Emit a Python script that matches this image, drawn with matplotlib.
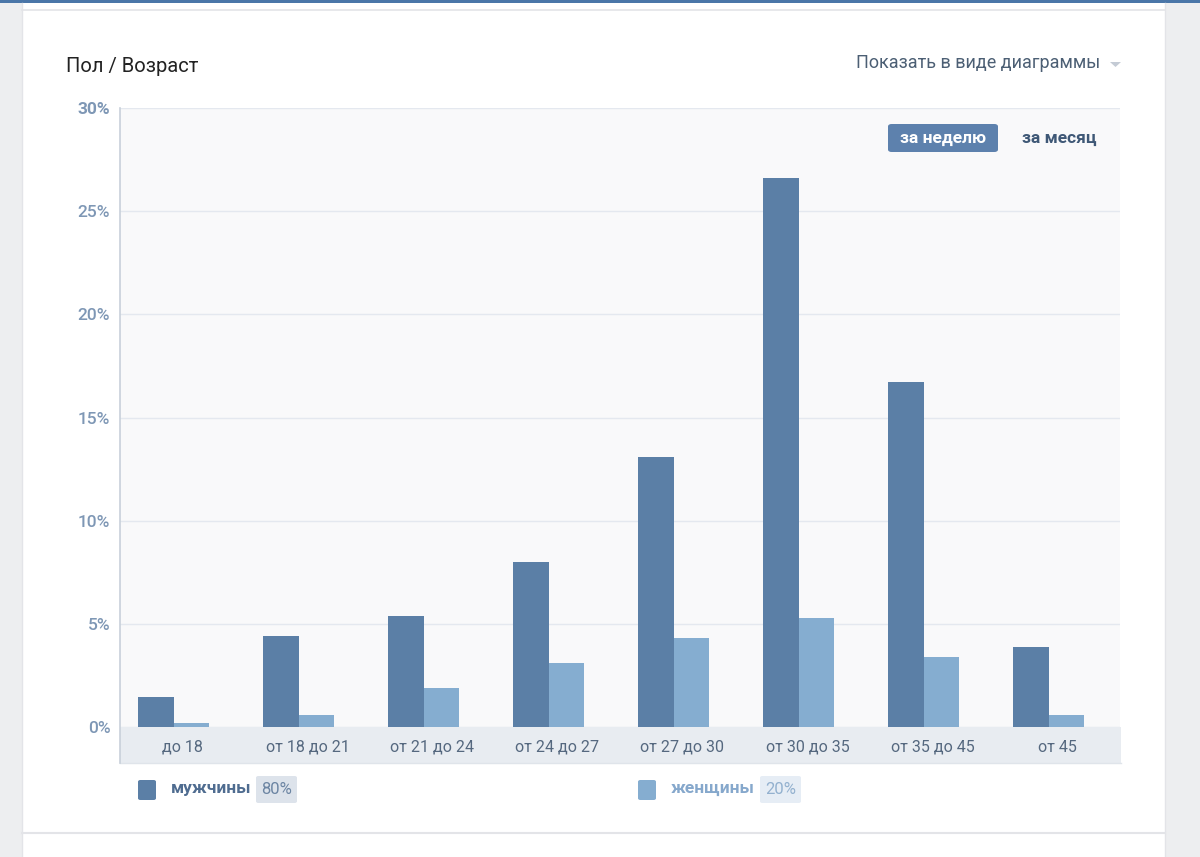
import matplotlib
matplotlib.use("Agg")
import matplotlib.pyplot as plt
from matplotlib.patches import Rectangle, FancyBboxPatch, Polygon
from matplotlib.lines import Line2D

categories = ['до 18', 'от 18 до 21', 'от 21 до 24', 'от 24 до 27',
              'от 27 до 30', 'от 30 до 35', 'от 35 до 45', 'от 45']
men = [1.45, 4.4, 5.4, 8.0, 13.1, 26.6, 16.7, 3.9]
women = [0.2, 0.6, 1.9, 3.1, 4.3, 5.3, 3.4, 0.6]
yticks = [0, 5, 10, 15, 20, 25, 30]
ytick_labels = ['0%', '5%', '10%', '15%', '20%', '25%', '30%']
series_names = ['мужчины', 'женщины']
series_shares = ['80%', '20%']

plt.rcParams['font.family'] = ['Roboto', 'DejaVu Sans']

W, H = 1200, 857
fig = plt.figure(figsize=(W / 100, H / 100), dpi=100)
fig.patch.set_facecolor('#edeef0')


def fx(x):
    return x / W


def fy(y):
    return 1 - y / H


def rect(x0, y0, x1, y1, color, z=0, **kw):
    fig.add_artist(Rectangle((fx(x0), fy(y1)), fx(x1) - fx(x0), fy(y0) - fy(y1),
                             transform=fig.transFigure, facecolor=color,
                             edgecolor='none', zorder=z, **kw))


def hline(x0, x1, y, color, lw=1, z=1):
    fig.add_artist(Line2D([fx(x0), fx(x1)], [fy(y), fy(y)], transform=fig.transFigure,
                          color=color, lw=lw, zorder=z))


def vline(x, y0, y1, color, lw=1, z=1):
    fig.add_artist(Line2D([fx(x), fx(x)], [fy(y0), fy(y1)], transform=fig.transFigure,
                          color=color, lw=lw, zorder=z))


# page background / card
rect(22, 0, 1165, 857, '#ffffff', z=0)
rect(0, 0, 1200, 3, '#4a76a8', z=1)
hline(22, 1165, 10, '#e3e4e8', lw=1.2)
hline(22, 1165, 833, '#e3e4e8', lw=1.5)
vline(22, 3, 857, '#e3e4e8', lw=1)
vline(1165, 3, 857, '#e3e4e8', lw=1)

# axes
ax_left, ax_right, ax_top, ax_bottom = 120, 1120, 108, 727
ax = fig.add_axes([fx(ax_left), fy(ax_bottom), fx(ax_right) - fx(ax_left),
                   fy(ax_top) - fy(ax_bottom)])
ax.set_zorder(2)
ax.set_facecolor('#f9f9fa')
ax.set_ylim(0, 30)
ax.set_xlim(-0.5, len(categories) - 0.5)
for s in ax.spines.values():
    s.set_visible(False)

ax.set_yticks(yticks)
ax.set_yticklabels(ytick_labels)
ax.tick_params(axis='y', length=0, pad=7, labelsize=12.5, labelcolor='#7e97b5')
for t in ax.get_yticklabels():
    t.set_fontweight('medium')
ax.get_yticklabels()[-1].set_fontweight('bold')
ax.yaxis.grid(True, color='#e4e8ef', lw=1)
ax.set_axisbelow(True)

xs = list(range(len(categories)))
ax.set_xticks(xs)
ax.set_xticklabels(categories)
ax.tick_params(axis='x', length=0, pad=9, labelsize=11.5, labelcolor='#55687f')

bw = 0.285
shift = -0.072
ax.bar([x + shift - bw / 2 for x in xs], men, width=bw, color='#5b7fa6', zorder=3)
ax.bar([x + shift + bw / 2 for x in xs], women, width=bw, color='#85add0', zorder=3)

# x-axis band (below the axes in drawing order)
rect(ax_left, ax_bottom, ax_right + 1, 763, '#e8ecf1', z=1)
hline(ax_left, ax_right + 1, 763, '#dfe4ea', lw=1, z=1)
vline(120, 108, 763, '#c8d0da', lw=1.2, z=3)

# title & dropdown
fig.text(fx(66), fy(66), 'Пол / Возраст', fontsize=14.5, color='#222222',
         va='center', ha='left')
fig.text(fx(1100), fy(63.5), 'Показать в виде диаграммы', fontsize=13, color='#4c5f74',
         va='center', ha='right')
fig.add_artist(Polygon([[fx(1110), fy(62)], [fx(1121), fy(62)], [fx(1115.5), fy(67)]],
                       closed=True, transform=fig.transFigure, facecolor='#c4cbd5',
                       edgecolor='none'))

# period buttons
fig.add_artist(FancyBboxPatch((fx(888), fy(152)), fx(998) - fx(888), fy(124) - fy(152),
                              boxstyle='round,pad=0,rounding_size=0.003',
                              transform=fig.transFigure, facecolor='#5d81ad',
                              edgecolor='none', zorder=4))
fig.text(fx(943), fy(138), 'за неделю', fontsize=12.5, color='white', fontweight='bold',
         ha='center', va='center', zorder=5)
fig.text(fx(1059.5), fy(138), 'за месяц', fontsize=12.5, color='#3f5876', fontweight='bold',
         ha='center', va='center', zorder=5)

# legend
legend_items = [
    (138, '#5b7fa6', '#4f6c90', '#dde3eb', '#6c85a3', 256),
    (638, '#85add0', '#86a8cc', '#e6edf5', '#93b1cf', 760),
]
for (x0, sq, tc, bc, pc, bx), name, share in zip(legend_items, series_names, series_shares):
    fig.add_artist(FancyBboxPatch((fx(x0), fy(800)), fx(18), fy(780) - fy(800),
                                  boxstyle='round,pad=0,rounding_size=0.002',
                                  transform=fig.transFigure, facecolor=sq,
                                  edgecolor='none'))
    fig.text(fx(x0 + 33), fy(789), name, fontsize=12.5, color=tc, fontweight='bold',
             ha='left', va='center')
    fig.add_artist(FancyBboxPatch((fx(bx), fy(803)), fx(41), fy(776) - fy(803),
                                  boxstyle='round,pad=0,rounding_size=0.002',
                                  transform=fig.transFigure, facecolor=bc,
                                  edgecolor='none'))
    fig.text(fx(bx + 20.5), fy(789.5), share, fontsize=12, color=pc,
             ha='center', va='center')

fig.savefig('out.png', dpi=100, facecolor=fig.get_facecolor())
